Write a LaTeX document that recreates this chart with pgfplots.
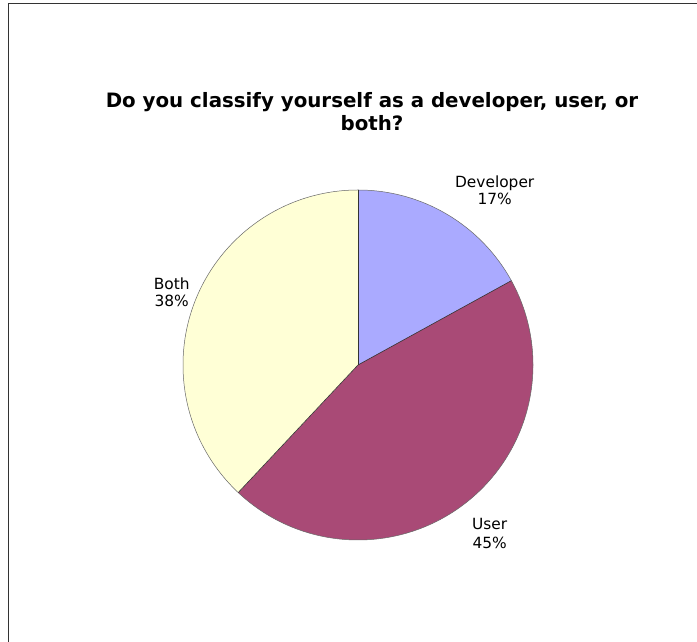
\documentclass[border=0pt]{standalone}
\usepackage{pgfplots}
\pgfplotsset{compat=1.18}
\usepackage{pgfplotstable}
\usepackage{fontspec}
\setmainfont{DejaVu Sans}
\definecolor{cDev}{RGB}{170,170,255}
\definecolor{cUser}{RGB}{169,74,118}
\definecolor{cBoth}{RGB}{255,255,214}
\pgfplotstableread{
label value
Developer 17
User 45
Both 38
}\piedata
\begin{document}
\begin{tikzpicture}[x=1pt,y=1pt]
\useasboundingbox (0,0) rectangle (697,642);
\clip (0,0) rectangle (697,642);
% values -> angles (clockwise from 12 o'clock)
\pgfplotstablegetelem{0}{value}\of\piedata \pgfmathsetmacro{\vA}{\pgfplotsretval}
\pgfplotstablegetelem{1}{value}\of\piedata \pgfmathsetmacro{\vB}{\pgfplotsretval}
\pgfplotstablegetelem{2}{value}\of\piedata \pgfmathsetmacro{\vC}{\pgfplotsretval}
\pgfmathsetmacro{\tot}{\vA+\vB+\vC}
\pgfmathsetmacro{\aA}{90}
\pgfmathsetmacro{\aB}{\aA-360*\vA/\tot}
\pgfmathsetmacro{\aC}{\aB-360*\vB/\tot}
\pgfmathsetmacro{\aD}{\aC-360*\vC/\tot}
\begin{axis}[
  at={(0,0)}, anchor=south west,
  x=1pt, y=1pt,
  xmin=0, xmax=697, ymin=0, ymax=642,
  hide axis, clip=false,
]
\fill[cDev]  (axis cs:358,277) -- ++(\aA:175) arc[start angle=\aA, end angle=\aB, radius=175] -- cycle;
\fill[cUser] (axis cs:358,277) -- ++(\aB:175) arc[start angle=\aB, end angle=\aC, radius=175] -- cycle;
\fill[cBoth] (axis cs:358,277) -- ++(\aC:175) arc[start angle=\aC, end angle=\aD, radius=175] -- cycle;
\draw[black!60, line width=0.5pt] (axis cs:358,277) circle[radius=175];
\draw[black!80, line width=0.6pt] (axis cs:358,277) -- ++(\aA:175);
\draw[black!80, line width=0.6pt] (axis cs:358,277) -- ++(\aB:175);
\draw[black!80, line width=0.6pt] (axis cs:358,277) -- ++(\aC:175);
\tikzset{lab/.style={anchor=base, inner sep=0pt, font=\fontsize{15.4}{17.5}\selectfont}}
\node[lab] at (axis cs:494.7,454.3) {Developer};
\node[lab] at (axis cs:494.7,437) {17\%};
\node[lab] at (axis cs:489.7,112) {User};
\node[lab] at (axis cs:489.7,93.7) {45\%};
\node[lab] at (axis cs:171.7,352) {Both};
\node[lab] at (axis cs:171.7,335.3) {38\%};
\tikzset{ttl/.style={anchor=base, inner sep=0pt, font=\bfseries\fontsize{19.8}{23}\selectfont}}
\node[ttl] at (axis cs:372,534.3) {Do you classify yourself as a developer, user, or};
\node[ttl] at (axis cs:372,511.5) {both?};
\end{axis}
\draw[black!80, line width=1.3pt] (8.5,-10) -- (8.5,638.5) -- (710,638.5);
\end{tikzpicture}
\end{document}
